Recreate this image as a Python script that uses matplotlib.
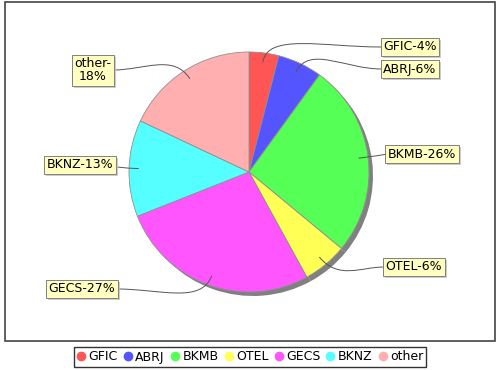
import numpy as np
import matplotlib
matplotlib.use("Agg")
import matplotlib.pyplot as plt
from matplotlib.lines import Line2D
from matplotlib.patches import Rectangle, PathPatch
from matplotlib.path import Path
import matplotlib.patheffects as pe

# ---------------- data ----------------
names = ["GFIC", "ABRJ", "BKMB", "OTEL", "GECS", "BKNZ", "other"]
shares = [4, 6, 26, 6, 27, 13, 18]
colors = ["#ff5555", "#5555ff", "#55ff55", "#ffff55", "#ff55ff", "#55ffff", "#ffafaf"]

# label box centres (pixel layout, y up)
label_pos = {
    "GFIC": (410, 323), "ABRJ": (410, 301), "BKMB": (422, 216),
    "OTEL": (414, 103), "GECS": (82, 81), "BKNZ": (80, 205), "other": (93, 300),
}

W, H = 500, 370
CX, CY, R = 249, 198, 120

fig = plt.figure(figsize=(5, 3.7), dpi=100)
ax = fig.add_axes([0, 0, 1, 1])

# shadow, then pie
ax.pie(shares, colors=["#808080"] * len(shares), center=(CX + 4, CY - 4), radius=R,
       startangle=90, counterclock=False, frame=True,
       wedgeprops=dict(linewidth=0))
wedges, _ = ax.pie(shares, colors=colors, center=(CX, CY), radius=R,
                   startangle=90, counterclock=False, frame=True,
                   wedgeprops=dict(edgecolor="#909090", linewidth=0.6))

ax.set_xlim(0, W)
ax.set_ylim(0, H)
ax.set_aspect("equal")
ax.axis("off")

# plot-area border
ax.add_patch(Rectangle((5, 29), 490, 339, fill=False, edgecolor="#444444", lw=1.2))

# labels + curved links
for w, name, s in zip(wedges, names, shares):
    mid = np.deg2rad((w.theta1 + w.theta2) / 2)
    ax_pt = np.array([CX + 0.92 * R * np.cos(mid), CY + 0.92 * R * np.sin(mid)])
    out = np.array([np.cos(mid), np.sin(mid)])
    lx, ly = label_pos[name]
    txt = f"{name}-{s}%" if name != "other" else f"{name}-\n{s}%"
    t = ax.text(lx, ly, txt, ha="center", va="center", fontsize=9, color="black",
                linespacing=1.0,
                bbox=dict(boxstyle="square,pad=0.2", fc="#ffffc0", ec="#808080", lw=0.7),
                zorder=5)
    t.get_bbox_patch().set_path_effects([
        pe.SimplePatchShadow(offset=(1.5, -1.5), shadow_rgbFace="#c0c0c0", alpha=0.8),
        pe.Normal()])
    fig.canvas.draw()
    bb = t.get_window_extent().transformed(ax.transData.inverted())
    if lx > CX:
        p0 = np.array([bb.x0 - 2, ly])
    else:
        p0 = np.array([bb.x1 + 2, ly])
    p3 = ax_pt
    p2 = p3 + out * 0.25 * R
    p1 = np.array([p0[0] + (p2[0] - p0[0]) * 0.5, p0[1]])
    path = Path([p0, p1, p2, p3], [Path.MOVETO, Path.CURVE4, Path.CURVE4, Path.CURVE4])
    ax.add_patch(PathPatch(path, fill=False, edgecolor="#555555", lw=0.7, zorder=4))

# legend
handles = [Line2D([], [], marker="o", linestyle="", markersize=6,
                  markerfacecolor=c, markeredgecolor=c) for c in colors]
leg = fig.legend(handles, names, loc="center", bbox_to_anchor=(0.5, 1 - 357 / H),
                 ncol=len(names), fontsize=9, frameon=True, fancybox=False,
                 handlelength=0.7, handletextpad=0.25, columnspacing=0.45,
                 borderpad=0.25, borderaxespad=0)
leg.get_frame().set_edgecolor("black")
leg.get_frame().set_linewidth(1.0)

fig.savefig("out.png", dpi=100, facecolor="white")
